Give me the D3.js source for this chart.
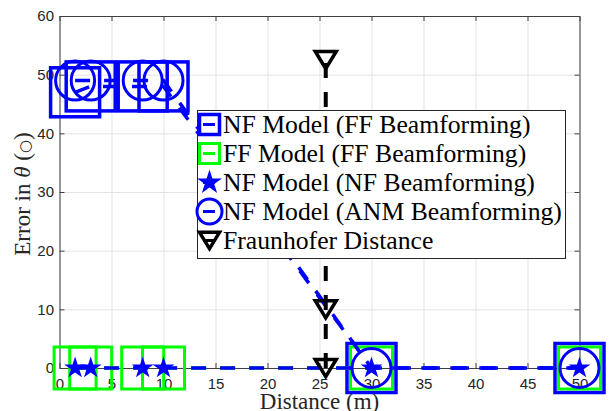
<!DOCTYPE html>
<html>
<head>
<meta charset="utf-8">
<script src="https://cdn.jsdelivr.net/npm/d3@7"></script>
<style>
  body { margin: 0; background: #fff; }
  #svg-container { width: 613px; height: 411px; }
  .tick-lbl text { font-family: "Liberation Sans", Arial, sans-serif; font-size: 15px; fill: #262626; }
</style>
</head>
<body>
<div id="svg-container"></div>
<script>
////////////////////////////////////////////////////////////////////
////////////////////////////  Data  ////////////////////////////////
const distances = [1.5, 3, 8, 10, 30, 50];
const nfModelFF = [47, 48, 48, 48, 0, 0];
const ffModelFF = [0, 0, 0, 0, 0, 0];
const nfModelNF = [0, 0, 0, 0, 0, 0];
const nfModelANM = [49, 49, 49, 49, 0, 0];
const fraunhoferDist = 25.6;
const fraunhoferY = [0, 10, 52.5];

const xTicks = [0, 5, 10, 15, 20, 25, 30, 35, 40, 45, 50];
const yTicks = [0, 10, 20, 30, 40, 50, 60];

const legendLabels = [
  "NF Model (FF Beamforming)",
  "FF Model (FF Beamforming)",
  "NF Model (NF Beamforming)",
  "NF Model (ANM Beamforming)",
  "Fraunhofer Distance",
];

////////////////////////////////////////////////////////////////////
////////////////////////////  Init  ////////////////////////////////
const width = 613;
const height = 411;
const margin = { top: 16, right: 33.5, bottom: 43, left: 59.5 };

const svg = d3
  .select("#svg-container")
  .append("svg")
  .attr("width", width)
  .attr("height", height);

svg.append("rect").attr("width", width).attr("height", height).attr("fill", "#fff");

const xScale = d3.scaleLinear().domain([0, 50]).range([margin.left, width - margin.right]);
const yScale = d3.scaleLinear().domain([0, 60]).range([height - margin.bottom, margin.top]);

const plotW = width - margin.left - margin.right;
const plotH = height - margin.top - margin.bottom;

// grid
svg
  .append("g")
  .attr("transform", `translate(0,${height - margin.bottom})`)
  .call(d3.axisBottom(xScale).tickValues(xTicks).tickSize(-plotH).tickFormat(""))
  .call((g) => g.select(".domain").remove())
  .selectAll("line")
  .attr("stroke", "#e3e3e3");

svg
  .append("g")
  .attr("transform", `translate(${margin.left},0)`)
  .call(d3.axisLeft(yScale).tickValues(yTicks).tickSize(-plotW).tickFormat(""))
  .call((g) => g.select(".domain").remove())
  .selectAll("line")
  .attr("stroke", "#e3e3e3");

// axes
const axisColor = "#404040";

svg
  .append("g")
  .attr("class", "tick-lbl")
  .attr("transform", `translate(0,${height - margin.bottom})`)
  .call(d3.axisBottom(xScale).tickValues(xTicks).tickSizeInner(-5).tickSizeOuter(0).tickPadding(10.5))
  .call((g) => g.selectAll("line,path").attr("stroke", axisColor));

svg
  .append("g")
  .attr("class", "tick-lbl")
  .attr("transform", `translate(${margin.left},0)`)
  .call(d3.axisLeft(yScale).tickValues(yTicks).tickSizeInner(-5).tickSizeOuter(0).tickPadding(5.5))
  .call((g) => g.selectAll("line,path").attr("stroke", axisColor));

svg
  .append("g")
  .attr("transform", `translate(0,${margin.top})`)
  .call(d3.axisTop(xScale).tickValues(xTicks).tickSizeInner(-5).tickSizeOuter(0).tickFormat(""))
  .call((g) => g.selectAll("line,path").attr("stroke", axisColor));

svg
  .append("g")
  .attr("transform", `translate(${width - margin.right},0)`)
  .call(d3.axisRight(yScale).tickValues(yTicks).tickSizeInner(-5).tickSizeOuter(0).tickFormat(""))
  .call((g) => g.selectAll("line,path").attr("stroke", axisColor));

// axis labels
svg
  .append("text")
  .attr("x", margin.left + plotW / 2)
  .attr("y", 409)
  .attr("text-anchor", "middle")
  .attr("font-family", "Liberation Serif, Times New Roman, serif")
  .attr("font-size", 23)
  .attr("fill", "#262626")
  .text("Distance (m)");

const yLabel = svg
  .append("text")
  .attr("transform", `translate(30,${margin.top + plotH / 2 + 2}) rotate(-90)`)
  .attr("text-anchor", "middle")
  .attr("font-family", "Liberation Serif, Times New Roman, serif")
  .attr("font-size", 23)
  .attr("fill", "#262626");
yLabel.append("tspan").text("Error in ");
yLabel.append("tspan").attr("font-style", "italic").text("θ");
yLabel.append("tspan").text(" (");
yLabel.append("tspan").attr("font-family", "DejaVu Sans").attr("font-size", 15).text("○");
yLabel.append("tspan").text(")");

////////////////////////////////////////////////////////////////////
////////////////////////////  Markers  /////////////////////////////
function starPath(R) {
  const r = R * 0.382;
  const pts = [];
  for (let i = 0; i < 10; i++) {
    const a = -Math.PI / 2 + (i * Math.PI) / 5;
    const rr = i % 2 === 0 ? R : r;
    pts.push([rr * Math.cos(a), rr * Math.sin(a)]);
  }
  return "M" + pts.map((p) => p.join(",")).join("L") + "Z";
}

function triDownPath(w, h) {
  return `M${-w / 2},${-h / 2}L${w / 2},${-h / 2}L0,${h / 2}Z`;
}

function drawMarker(g, type, s) {
  if (type === "squareBlue") {
    g.append("rect").attr("x", -s / 2).attr("y", -s / 2).attr("width", s).attr("height", s)
      .attr("fill", "none").attr("stroke", "#0000ff").attr("stroke-width", 3.5);
  } else if (type === "squareGreen") {
    g.append("rect").attr("x", -s / 2).attr("y", -s / 2).attr("width", s).attr("height", s)
      .attr("fill", "none").attr("stroke", "#00ff00").attr("stroke-width", 3);
  } else if (type === "star") {
    g.append("path").attr("d", starPath(s)).attr("fill", "#0000ff");
  } else if (type === "circle") {
    g.append("circle").attr("r", s).attr("fill", "none").attr("stroke", "#0000ff").attr("stroke-width", 3);
  } else if (type === "tri") {
    g.append("path").attr("d", triDownPath(s, s * 0.82)).attr("fill", "none")
      .attr("stroke", "#000").attr("stroke-width", 3.5).attr("stroke-linejoin", "miter");
  }
}

////////////////////////////////////////////////////////////////////
////////////////////////////  Series  //////////////////////////////
const line = d3
  .line()
  .x((d) => xScale(d[0]))
  .y((d) => yScale(d[1]));

const series = [
  { xs: distances, ys: nfModelFF, color: "#0000ff", marker: "squareBlue", size: 49, lw: 3.5 },
  { xs: distances, ys: ffModelFF, color: "#00ff00", marker: "squareGreen", size: 42, lw: 3.5 },
  { xs: distances, ys: nfModelNF, color: "#0000ff", marker: "star", size: 11.5, lw: 3.5 },
  { xs: distances, ys: nfModelANM, color: "#0000ff", marker: "circle", size: 19.5, lw: 3.5 },
  { xs: fraunhoferY.map(() => fraunhoferDist), ys: fraunhoferY, color: "#000", marker: "tri", size: 21, lw: 4 },
];

series.forEach((s) => {
  const pts = s.xs.map((x, i) => [x, s.ys[i]]);
  svg
    .append("path")
    .datum(pts)
    .attr("fill", "none")
    .attr("stroke", s.color)
    .attr("stroke-width", s.lw)
    .attr("stroke-dasharray", "15,14")
    .attr("d", line);

  pts.forEach((p) => {
    const g = svg.append("g").attr("transform", `translate(${xScale(p[0])},${yScale(p[1])})`);
    drawMarker(g, s.marker, s.size);
  });
});

////////////////////////////////////////////////////////////////////
////////////////////////////  Legend  //////////////////////////////
const legendMarkers = [
  { marker: "squareBlue", size: 20, color: "#0000ff" },
  { marker: "squareGreen", size: 20, color: "#00ff00" },
  { marker: "star", size: 13, color: "#0000ff" },
  { marker: "circle", size: 12.5, color: "#0000ff" },
  { marker: "tri", size: 20, color: "#000" },
];

const legend = svg.append("g");
legend
  .append("rect")
  .attr("x", 197.5)
  .attr("y", 110.5)
  .attr("width", 368)
  .attr("height", 148)
  .attr("fill", "#fff")
  .attr("stroke", "#262626")
  .attr("stroke-width", 1);

legendLabels.forEach((label, i) => {
  const cy = 124.5 + i * 29;
  const m = legendMarkers[i];
  legend
    .append("line")
    .attr("x1", 203)
    .attr("x2", 215)
    .attr("y1", cy)
    .attr("y2", cy)
    .attr("stroke", m.color)
    .attr("stroke-width", 3);
  const g = legend.append("g").attr("transform", `translate(209.5,${cy})`);
  drawMarker(g, m.marker, m.size);
  legend
    .append("text")
    .attr("x", 223)
    .attr("y", cy + 8.5)
    .attr("font-family", "Liberation Serif, Times New Roman, serif")
    .attr("font-size", 25.7)
    .attr("fill", "#000")
    .text(label);
});
</script>
</body>
</html>
